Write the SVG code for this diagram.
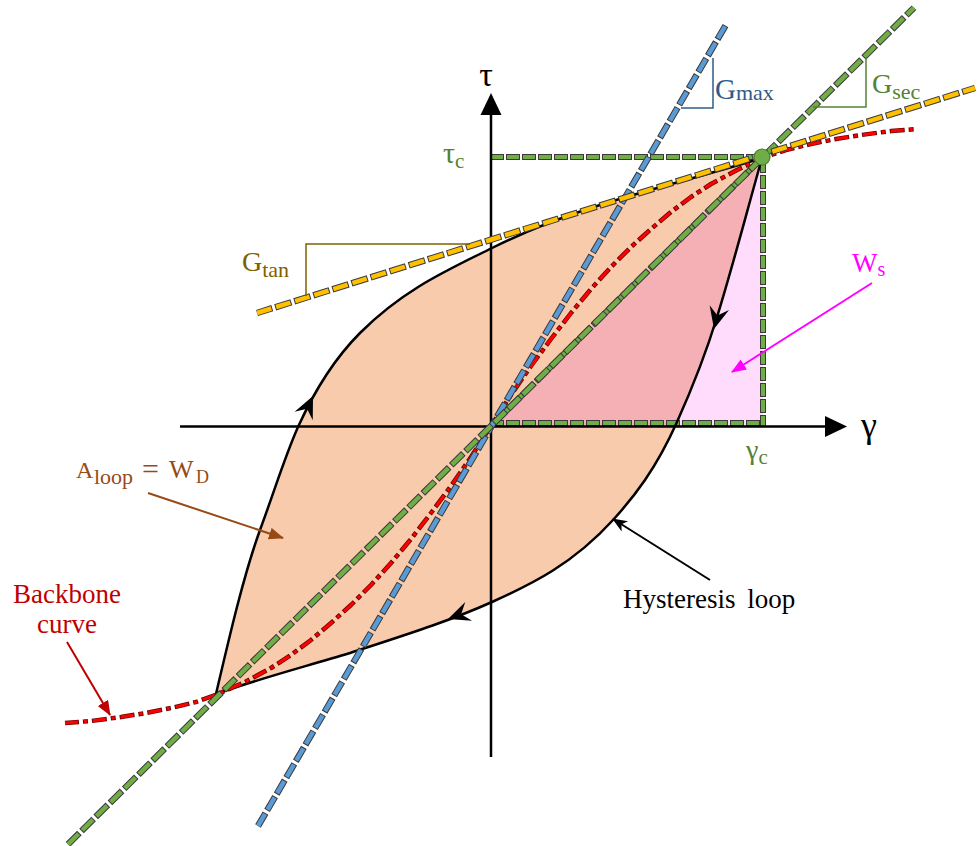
<svg xmlns="http://www.w3.org/2000/svg" width="978" height="846" viewBox="0 0 978 846">
<style>
.t{font-family:"Liberation Serif","Times New Roman",serif}
.gd{fill:none;stroke:#70AD47;stroke-width:4.5;stroke-dasharray:15 5}
.gdo{fill:none;stroke:#3a3a3a;stroke-width:6.5;stroke-dasharray:17 3;stroke-dashoffset:1}
.bd{fill:none;stroke:#5B9BD5;stroke-width:4.5;stroke-dasharray:14 5}
.bdo{fill:none;stroke:#3a3a3a;stroke-width:6.5;stroke-dasharray:16 3;stroke-dashoffset:1}
.yd{fill:none;stroke:#FFC000;stroke-width:4.5;stroke-dasharray:15 5}
.ydo{fill:none;stroke:#3a3a3a;stroke-width:6.5;stroke-dasharray:17 3;stroke-dashoffset:1}
.gb{fill:none;stroke:#70AD47;stroke-width:4;stroke-dasharray:12 4}
.gbo{fill:none;stroke:#3a3a3a;stroke-width:6;stroke-dasharray:14 2;stroke-dashoffset:1}
.rd{fill:none;stroke:#FF0000;stroke-width:3;stroke-dasharray:13 6 3 6;stroke-linejoin:round}
.rdo{fill:none;stroke:#700000;stroke-width:4.5;stroke-dasharray:15 4 5 4;stroke-dashoffset:1;stroke-linejoin:round}
</style>
<defs>
<marker id="mM" markerUnits="userSpaceOnUse" markerWidth="16" markerHeight="14" refX="14" refY="6" orient="auto"><path d="M0,0 L15,6 L0,12 Z" fill="#FF00FF"/></marker>
<marker id="mB" markerUnits="userSpaceOnUse" markerWidth="16" markerHeight="14" refX="14" refY="6" orient="auto"><path d="M0,0 L15,6 L0,12 Z" fill="#974A16"/></marker>
<marker id="mR" markerUnits="userSpaceOnUse" markerWidth="16" markerHeight="14" refX="14" refY="6" orient="auto"><path d="M0,0 L15,6 L0,12 Z" fill="#C00000"/></marker>
<marker id="mK" markerUnits="userSpaceOnUse" markerWidth="16" markerHeight="14" refX="14" refY="6" orient="auto"><path d="M0,0 L15,6 L0,12 L4,6 Z" fill="#000"/></marker>
<path id="ah" d="M0,0 L-22,-10 L-14,0 L-22,10 Z"/>
</defs>

<g id="fills">
<path d="M216,694 C230,634 244,574 260,530 C273,495 285,456 298,427 C318,383 340,353 360,333 C404,289 448,270 492,248 C582,203 672,186 762,158 C747,211 732,269 717,317 C704,360 690,393 677,422 C656,469 634,497 613,520 C573,564 532,584 492,602 C445,623 397,637.5 350,653 C304,667 258,679 216,694 Z" fill="#F8CBAD"/>
<path d="M491,426 L762,158 C747,211 732,269 717,317 C704,360 690,393 677,422 L675.2,426 Z" fill="#F5B0B6"/>
<path d="M762,158 C747,211 732,269 717,317 C704,360 690,393 677,422 L675.2,426 L763,426 L763,158 Z" fill="#FFDCFC"/>
</g>

<g id="ws-box">
<path class="gbo" d="M491,157 L763,157"/>
<path class="gb" d="M491,157 L763,157"/>
<path class="gbo" d="M763,160 L763,426 M491,423 L763,423 M491,426 L762,158"/>
<path class="gb" d="M763,160 L763,426 M491,423 L763,423 M491,426 L762,158"/>
</g>

<g id="hysteresis-loop">
<path d="M216,694 C230,634 244,574 260,530 C273,495 285,456 298,427 C318,383 340,353 360,333 C404,289 448,270 492,248 C582,203 672,186 762,158 C747,211 732,269 717,317 C704,360 690,393 677,422 C656,469 634,497 613,520 C573,564 532,584 492,602 C445,623 397,637.5 350,653 C304,667 258,679 216,694 Z" fill="none" stroke="#000" stroke-width="2.5" stroke-linejoin="miter"/>
<use href="#ah" transform="translate(313,396) rotate(-65)"/>
<use href="#ah" transform="translate(714,329) rotate(104)"/>
<use href="#ah" transform="translate(448,619) rotate(160)"/>
</g>

<g id="axes">
<line x1="491" y1="757" x2="491" y2="110" stroke="#000" stroke-width="2.5"/>
<polygon points="491,93 480.5,115 501.5,115" fill="#000"/>
<line x1="180" y1="426.5" x2="830" y2="426.5" stroke="#000" stroke-width="2.5"/>
<polygon points="847,426.5 825,416 825,437" fill="#000"/>
</g>

<g id="backbone">
<path class="rdo" d="M65,723 L91,721 L121,717 L146,713 L171,708 L196,702 L218,694 L245,682 L271,668 L291,655 L311,640 L331,623 L351,605 L371,585 L391,563 L411,539 L431,513 L451,486 L471,457 L482,440 L491,426 L500,412 L511,395 L531,366 L551,339 L571,313 L591,289 L611,267 L631,247 L651,229 L671,212 L691,197 L711,184 L737,170 L762,158 L786,150 L811,144 L836,139 L861,135 L891,131 L917,129"/>
<path class="rd" d="M65,723 L91,721 L121,717 L146,713 L171,708 L196,702 L218,694 L245,682 L271,668 L291,655 L311,640 L331,623 L351,605 L371,585 L391,563 L411,539 L431,513 L451,486 L471,457 L482,440 L491,426 L500,412 L511,395 L531,366 L551,339 L571,313 L591,289 L611,267 L631,247 L651,229 L671,212 L691,197 L711,184 L737,170 L762,158 L786,150 L811,144 L836,139 L861,135 L891,131 L917,129"/>
</g>

<g id="gmax-line">
<line class="bdo" x1="258" y1="826" x2="727" y2="23"/>
<line class="bd" x1="258" y1="826" x2="727" y2="23"/>
</g>

<g id="gsec-line">
<line class="gdo" x1="68" y1="844.3" x2="914" y2="7.7"/>
<line class="gd" x1="68" y1="844.3" x2="914" y2="7.7"/>
</g>

<g id="gtan-line">
<line class="ydo" x1="257" y1="313" x2="975" y2="88"/>
<line class="yd" x1="257" y1="313" x2="975" y2="88"/>
</g>

<g id="peak">
<circle cx="762" cy="157" r="8" fill="#70AD47" stroke="#4E7D30" stroke-width="1.2"/>
</g>

<g id="slope-triangles" fill="none" stroke-width="1.5">
<polyline points="681,108 713,108 713,58" stroke="#2E5C8A"/>
<polyline points="813,107 866,107 866,57" stroke="#548235"/>
<polyline points="470,244 306,244 306,296" stroke="#7F6000"/>
</g>

<g id="annotation-arrows" stroke-width="2">
<line x1="872" y1="283" x2="732" y2="372" stroke="#FF00FF" marker-end="url(#mM)"/>
<line x1="148" y1="493" x2="283" y2="538" stroke="#974A16" marker-end="url(#mB)"/>
<line x1="67" y1="642" x2="110" y2="715" stroke="#C00000" marker-end="url(#mR)"/>
<line x1="710" y1="580" x2="613" y2="519" stroke="#000" marker-end="url(#mK)"/>
</g>

<g id="labels" class="t">
<text x="486" y="86" font-size="34" text-anchor="middle" fill="#000">τ</text>
<text x="861" y="437" font-size="36" fill="#000">γ</text>
<text x="443" y="163" font-size="30" fill="#548235">τ<tspan font-size="21" dy="5">c</tspan></text>
<text x="746" y="459" font-size="28" fill="#548235">γ<tspan font-size="21" dy="5">c</tspan></text>
<text x="715" y="99" font-size="29" fill="#2E5C8A">G<tspan font-size="22" dy="1">max</tspan></text>
<text x="872" y="93" font-size="28" fill="#548235">G<tspan font-size="22" dy="6">sec</tspan></text>
<text x="242" y="271" font-size="28" fill="#7F6000">G<tspan font-size="22" dy="6">tan</tspan></text>
<text x="852" y="272" font-size="27" fill="#FF00FF">W<tspan font-size="20" dy="4">s</tspan></text>
<text font-size="26" fill="#974A16"><tspan x="76" y="478" font-size="24">A</tspan><tspan x="94" y="484" font-size="22">loop</tspan><tspan x="142" y="479" font-size="30">=</tspan><tspan x="169" y="478">W</tspan><tspan x="196" y="483" font-size="18">D</tspan></text>
<text x="67" y="603" font-size="27" text-anchor="middle" fill="#C00000">Backbone</text>
<text x="67" y="633" font-size="27" text-anchor="middle" fill="#C00000">curve</text>
<text x="623" y="608" font-size="27" word-spacing="5" fill="#000">Hysteresis loop</text>
</g>
</svg>
